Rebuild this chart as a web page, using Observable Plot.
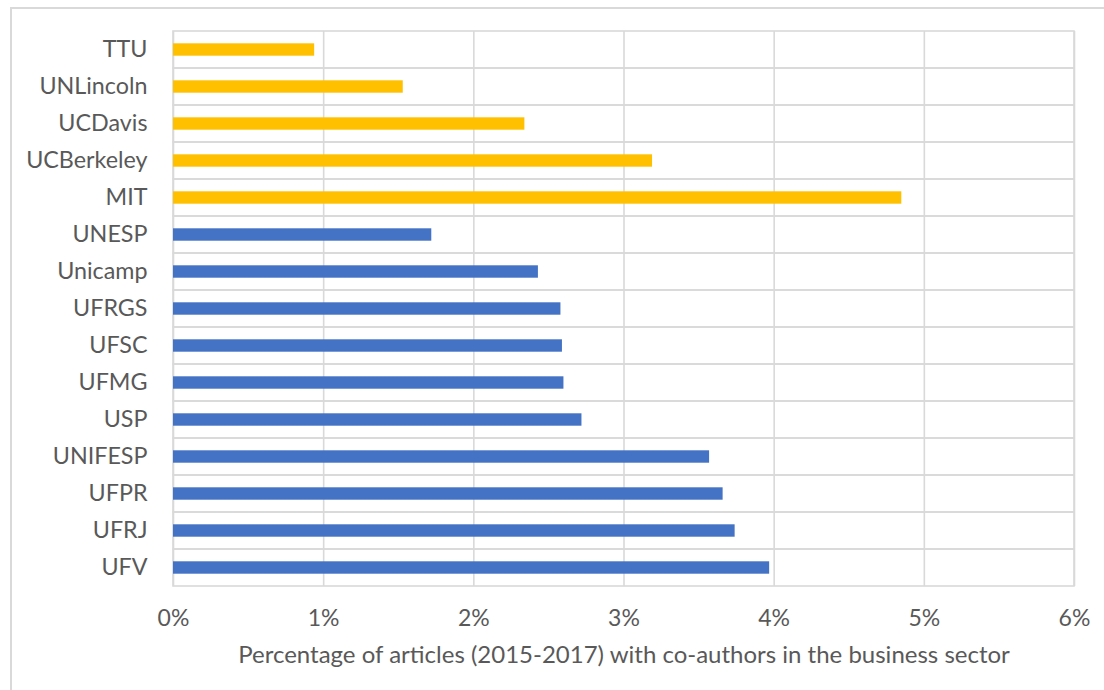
<!DOCTYPE html>
<html>
<head>
<meta charset="utf-8">
<script src="https://cdn.jsdelivr.net/npm/d3@7"></script>
<script src="https://cdn.jsdelivr.net/npm/@observablehq/plot@0.6"></script>
<style>
  html, body { margin: 0; padding: 0; background: #fff; overflow: hidden; }
  #wrap { position: relative; width: 1104px; height: 690px; }
  #frame { position: absolute; left: 10px; top: 7px; width: 1200px; height: 800px;
           border: 2px solid #d9d9d9; box-sizing: border-box; }
  #chart { position: absolute; left: 0; top: 0; }
  #chart svg { font-family: Lato, "Liberation Sans", sans-serif; }
</style>
</head>
<body>
<div id="wrap">
  <div id="frame"></div>
  <div id="chart"></div>
</div>
<script>
// Universities, top to bottom
const universities = ["TTU", "UNLincoln", "UCDavis", "UCBerkeley", "MIT",
  "UNESP", "Unicamp", "UFRGS", "UFSC", "UFMG", "USP", "UNIFESP", "UFPR", "UFRJ", "UFV"];
// Share of 2015-2017 articles with business-sector co-authors
const shares = [0.0094, 0.0153, 0.0234, 0.0319, 0.0485,
  0.0172, 0.0243, 0.0258, 0.0259, 0.0260, 0.0272, 0.0357, 0.0366, 0.0374, 0.0397];
const countries = ["US", "US", "US", "US", "US",
  "BR", "BR", "BR", "BR", "BR", "BR", "BR", "BR", "BR", "BR"];
const xTicks = [0, 0.01, 0.02, 0.03, 0.04, 0.05, 0.06];
const xLabel = "Percentage of articles (2015-2017) with co-authors in the business sector";

const data = universities.map((name, i) => ({name, share: shares[i], country: countries[i]}));
const grid = "#d9d9d9";
const textColor = "#595959";

const chart = Plot.plot({
  width: 1104,
  height: 690,
  marginLeft: 173,
  marginRight: 30,
  marginTop: 31,
  marginBottom: 104,
  x: {domain: [0, 0.06]},
  y: {domain: universities, padding: 0},
  color: {domain: ["US", "BR"], range: ["#FFC000", "#4472C4"]},
  marks: [
    // row separators
    Plot.barX(universities, {x1: 0, x2: 0.06, y: d => d, fill: "none", stroke: grid, strokeWidth: 1.6}),
    Plot.ruleX(xTicks, {stroke: grid, strokeWidth: 1.6}),
    Plot.barX(data, {x: "share", y: "name", fill: "country", insetTop: 12.3, insetBottom: 12.3}),
    Plot.axisY({tickSize: 0, tickPadding: 26, fontSize: 23.3, fill: textColor, label: null}),
    Plot.axisX({ticks: xTicks, tickFormat: d3.format(".0%"), tickSize: 0, tickPadding: 23,
      fontSize: 23, fill: textColor, label: null}),
    Plot.axisX({ticks: [], tickSize: 0, label: xLabel, labelAnchor: "center", labelArrow: "none",
      labelOffset: 76, fontSize: 24, fill: textColor})
  ]
});
document.getElementById("chart").appendChild(chart);
</script>
</body>
</html>
